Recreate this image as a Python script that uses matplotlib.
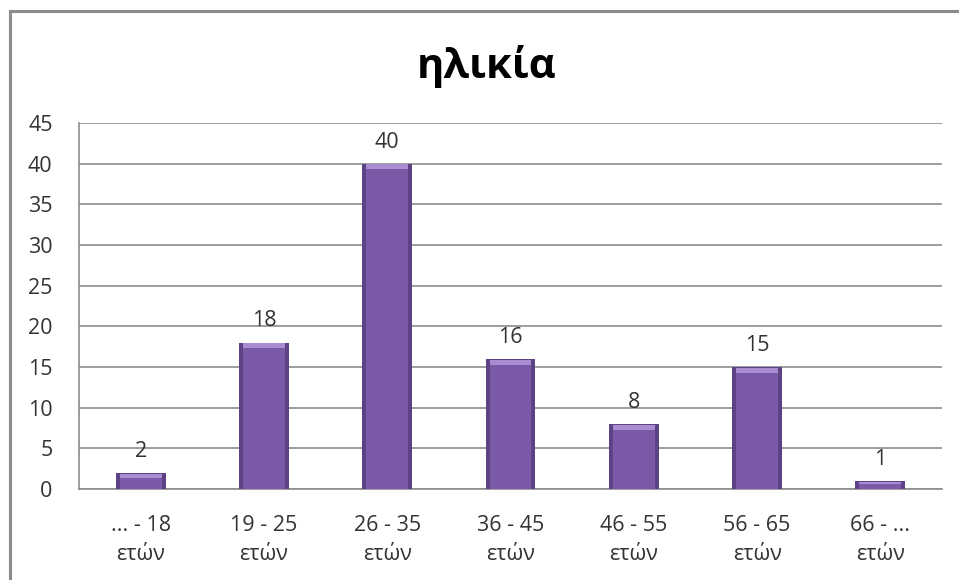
import numpy as np
import matplotlib.pyplot as plt
from matplotlib.lines import Line2D

plt.rcParams['font.family'] = ['Open Sans', 'DejaVu Sans']

# δεδομένα
categories = ['... - 18\nετών', '19 - 25\nετών', '26 - 35\nετών', '36 - 45\nετών',
              '46 - 55\nετών', '56 - 65\nετών', '66 - ...\nετών']
values = [2, 18, 40, 16, 8, 15, 1]
yticks = [0, 5, 10, 15, 20, 25, 30, 35, 40, 45]

bar_dark = '#5d4386'
bar_main = '#7a59a6'
bar_light = '#a88dd3'
grid_col = '#8c8c8c'
txt_col = '#333333'

fig = plt.figure(figsize=(9.59, 5.80), dpi=100)
ax = fig.add_axes([79/959, 1 - 489/580, (942-79)/959, (489-123)/580])

x = np.arange(len(values))
vals = np.array(values, dtype=float)

# bevel effect: dark outer bar, main inner bar, light top cap
ax.bar(x, vals, width=0.405, color=bar_dark, zorder=3)
ax.bar(x, vals - 0.25, width=0.34, color=bar_main, zorder=4)
cap = np.minimum(0.6, vals * 0.3)
ax.bar(x, cap, bottom=vals - cap - 0.1, width=0.34, color=bar_light, zorder=5)

for xi, v in zip(x, values):
    ax.annotate(str(v), (xi, v), xytext=(0, 8), textcoords='offset points',
                ha='center', va='bottom', fontsize=15.5, color=txt_col)

ax.set_xlim(-0.5, len(values) - 0.5)
ax.set_ylim(0, 45)
ax.set_yticks(yticks)
ax.set_xticks(x)
ax.set_xticklabels(categories, fontsize=15.5, color=txt_col, linespacing=1.45)
ax.tick_params(axis='y', length=0, pad=19, labelsize=15.5, labelcolor=txt_col)
ax.tick_params(axis='x', length=0, pad=19)

ax.yaxis.grid(True, color=grid_col, linewidth=1.2, zorder=0)
ax.set_axisbelow(True)
for s in ['top', 'right']:
    ax.spines[s].set_visible(False)
for s in ['left', 'bottom']:
    ax.spines[s].set_color(grid_col)
    ax.spines[s].set_linewidth(1.2)

fig.text(487/959, 1 - 67/580, 'ηλικία', ha='center', va='center',
         fontsize=30, fontweight='bold', color='black')

# chart frame (top and left visible)
fig.add_artist(Line2D([9.5/959, 1], [1 - 11/580, 1 - 11/580], color='#8c8c8c', linewidth=2.2))
fig.add_artist(Line2D([9.5/959, 9.5/959], [0, 1 - 11/580], color='#8c8c8c', linewidth=2.2))

fig.savefig('out.png', dpi=100)
